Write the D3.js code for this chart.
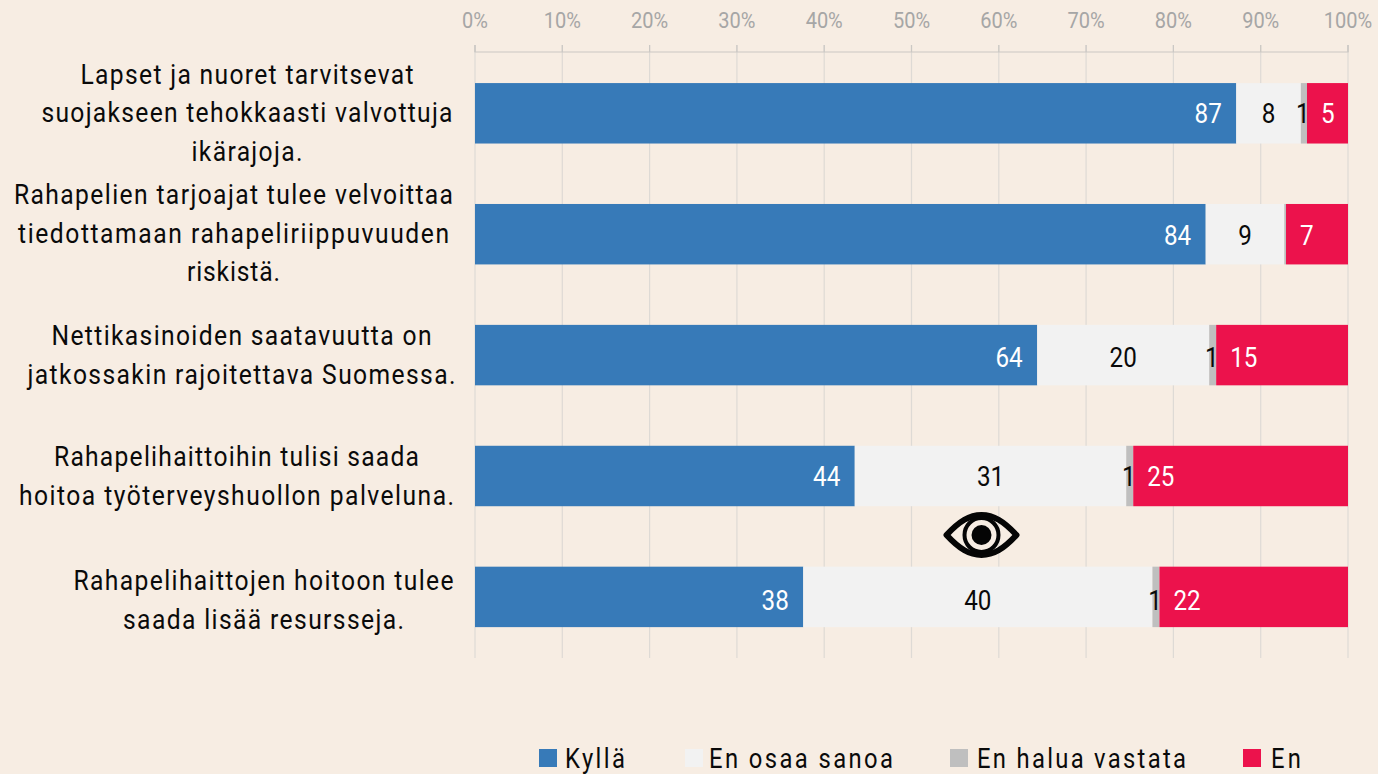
<!DOCTYPE html>
<html><head><meta charset="utf-8">
<script src="https://cdn.jsdelivr.net/npm/d3@7/dist/d3.min.js"></script>
<style>
html,body{margin:0;padding:0;background:#f7ede3;overflow:hidden}
svg{display:block}
text{font-family:"Roboto",sans-serif}
</style></head><body>
<svg id="c" width="1378" height="774"></svg>
<script>
const categories = [
  ["Lapset ja nuoret tarvitsevat","suojakseen tehokkaasti valvottuja","ikärajoja."],
  ["Rahapelien tarjoajat tulee velvoittaa","tiedottamaan rahapeliriippuvuuden","riskistä."],
  ["Nettikasinoiden saatavuutta on","jatkossakin rajoitettava Suomessa."],
  ["Rahapelihaittoihin tulisi saada","hoitoa työterveyshuollon palveluna."],
  ["Rahapelihaittojen hoitoon tulee","saada lisää resursseja."]
];
const seriesNames = ["Kyllä","En osaa sanoa","En halua vastata","En"];
const kylla  = [87.2,83.7,64.4,43.5,37.6];
const enOsaa = [7.4,9.0,19.7,31.1,40.0];
const enHalua= [0.7,0.2,0.8,0.8,0.8];
const en     = [4.7,7.1,15.1,24.6,21.6];
const labelKylla  = ["87","84","64","44","38"];
const labelEnOsaa = ["8","9","20","31","40"];
const labelEnHalua= ["1","","1","1","1"];
const labelEn     = ["5","7","15","25","22"];
const tickValues = [0,10,20,30,40,50,60,70,80,90,100];

const colors = ["#377ab8","#f2f2f2","#bfbfbf","#ec124c"];
const labelColors = ["#fff","#0a0a0a","#0a0a0a","#fff"];
const values = [kylla,enOsaa,enHalua,en];
const labels = [labelKylla,labelEnOsaa,labelEnHalua,labelEn];

// layout
const svg = d3.select("#c");
const x = d3.scaleLinear().domain([0,100]).range([475,1348]);
const y = d3.scaleBand().domain(d3.range(categories.length)).range([52.85,657.35]).paddingInner(0.5).paddingOuter(0.25);

function narrowText(parent,t,px,py,size,anchor,fill,squeeze,width){
  const el = parent.append("text")
    .attr("transform",`translate(${px},${py}) scale(${squeeze},1)`)
    .attr("text-anchor",anchor).attr("fill",fill).style("font-size",size+"px").text(t);
  if(width) el.attr("textLength",width/squeeze).attr("lengthAdjust","spacing");
  return el;
}

// grid + axis
svg.append("g").selectAll("line").data(tickValues).join("line")
  .attr("x1",d=>x(d)).attr("x2",d=>x(d)).attr("y1",45).attr("y2",658)
  .attr("stroke","#dedad5").attr("stroke-width",1.2);
const axis = d3.axisTop(x).tickValues(tickValues).tickFormat(d=>d+"%").tickSize(7).tickPadding(17).offset(0);
const ag = svg.append("g").attr("transform","translate(0,52)").call(axis);
ag.select(".domain").attr("stroke","#cbc8c4").attr("stroke-width",1.2);
ag.selectAll(".tick line").attr("stroke","#cbc8c4").attr("stroke-width",1.2);
ag.selectAll(".tick text").attr("fill","#a6a6a6")
  .style("font-size","22px").style("font-family","Roboto").attr("transform","scale(0.91,1)");

// stacked bars
const stacked = d3.stack().keys(d3.range(4)).value((i,k)=>values[k][i])(d3.range(5));
stacked.forEach((layer,k)=>{
  svg.append("g").selectAll("rect").data(layer).join("rect")
    .attr("x",d=>x(d[0])).attr("width",d=>x(d[1])-x(d[0]))
    .attr("y",d=>y(d.data)).attr("height",y.bandwidth()).attr("fill",colors[k]);
});
const labelDrop = [10,11,12,10,13];
stacked.forEach((layer,k)=>{
  const g = svg.append("g");
  layer.forEach(d=>{
    const px = k===0?x(d[1])-14.5:k===3?x(d[0])+14:(x(d[0])+x(d[1]))/2-(k===2?1:0);
    narrowText(g,labels[k][d.data],px,y(d.data)+y.bandwidth()/2+labelDrop[d.data],28.5,
      k===0?"end":k===3?"start":"middle",labelColors[k],0.85);
  });
});

// category labels: line centre and painted width
const lineCentres = [247,233.5,241.5,236.5,263.5];
const lineWidths = [[333,411,111],[439,431,93],[380,428],[365,435],[380,281]];
const firstBaselines = [83.5,204,345,466,590];
const lineStep = 38.5;
const catG = svg.append("g");
categories.forEach((lines,i)=>{
  lines.forEach((t,j)=>{
    narrowText(catG,t,lineCentres[i],firstBaselines[i]+j*lineStep,28,"middle","#0a0a0a",0.88,lineWidths[i][j]);
  });
});

// eye icon
const eye = svg.append("g").attr("transform","translate(981.5,535)");
eye.append("path").attr("d","M-35,0 C-22,-14 -12,-20 0,-20 C12,-20 22,-14 35,0 C22,14 12,20 0,20 C-12,20 -22,14 -35,0 Z")
  .attr("fill","none").attr("stroke","#050505").attr("stroke-width",6).attr("stroke-linejoin","round");
eye.append("circle").attr("r",17).attr("fill","none").attr("stroke","#050505").attr("stroke-width",4);
eye.append("circle").attr("r",10).attr("fill","#050505");

// legend
const legendSwatch = [539,685,950,1243];
const legendText = [565,709,977,1271];
const legendWidths = [60,184,209,30];
const lg = svg.append("g");
seriesNames.forEach((n,i)=>{
  lg.append("rect").attr("x",legendSwatch[i]).attr("y",749).attr("width",18).attr("height",18).attr("fill",colors[i]);
  narrowText(lg,n,legendText[i],768,28,"start","#0a0a0a",0.85,legendWidths[i]);
});
</script>
</body></html>
